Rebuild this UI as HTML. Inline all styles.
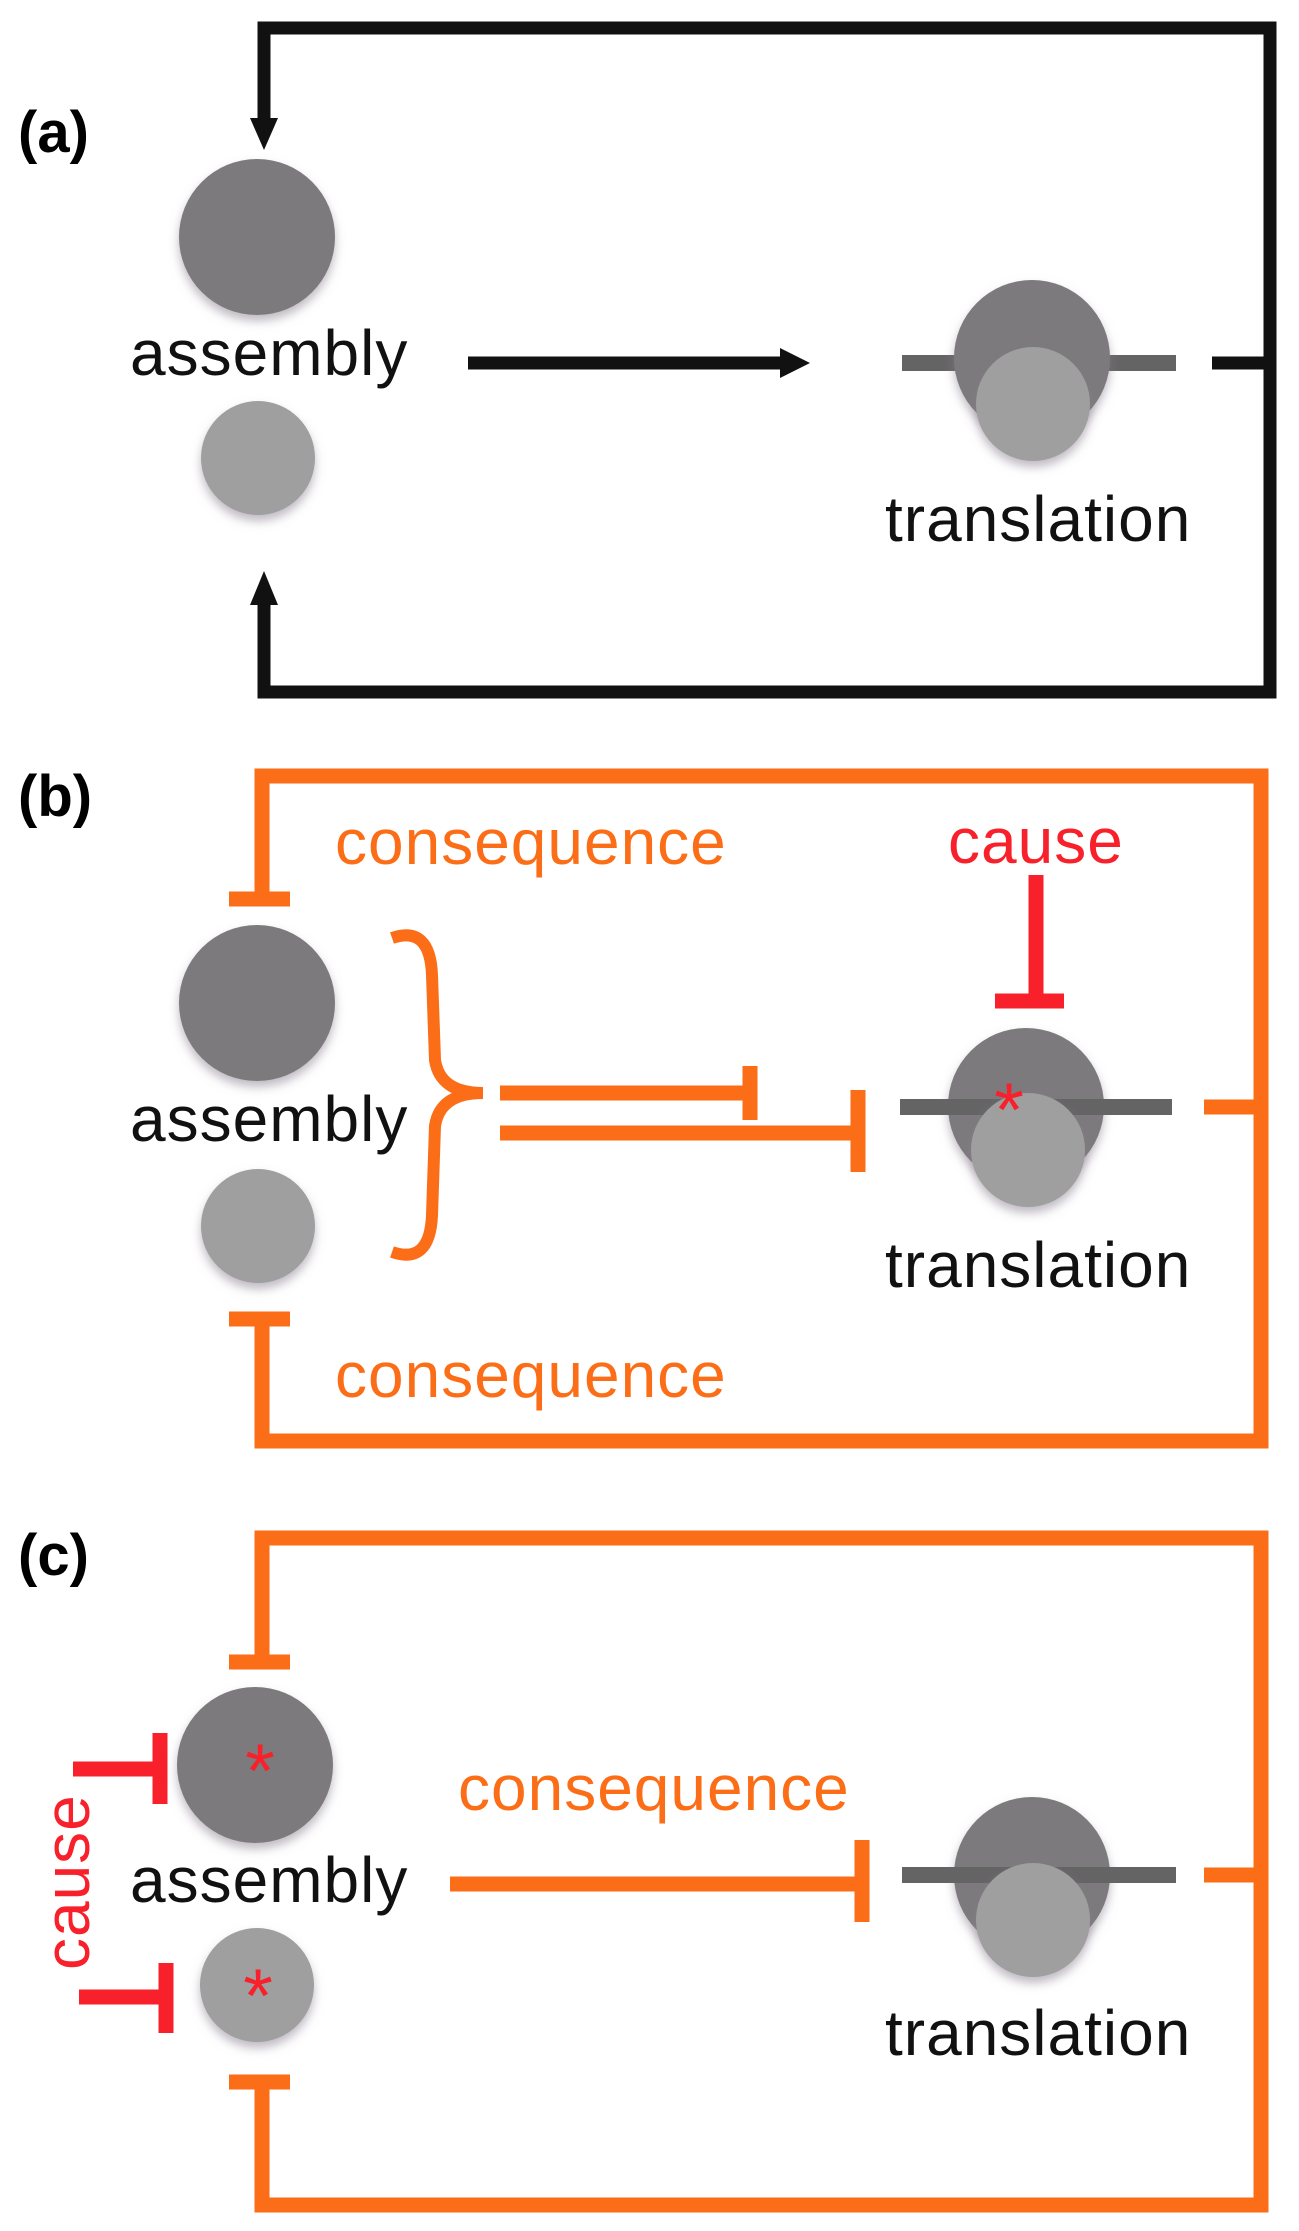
<!DOCTYPE html>
<html><head><meta charset="utf-8"><style>
html,body{margin:0;padding:0;background:#fff}
svg{display:block}
text{font-family:"Liberation Sans",sans-serif}
</style></head><body>
<svg width="1299" height="2231" viewBox="0 0 1299 2231" xmlns="http://www.w3.org/2000/svg">
<defs>
<filter id="sh" x="-30%" y="-30%" width="160%" height="170%">
<feDropShadow dx="0" dy="6" stdDeviation="5" flood-color="#8a8090" flood-opacity="0.55"/>
</filter>
</defs>
<g font-size="64" letter-spacing="1">
<!-- ===== Panel (a) ===== -->
<text x="18" y="152" font-size="58" font-weight="bold" letter-spacing="0">(a)</text>
<g fill="none" stroke="#111" stroke-width="13">
<polyline points="264,120 264,28 1270,28 1270,692 264,692 264,600"/>
<line x1="468" y1="363" x2="785" y2="363"/>
<line x1="1212" y1="363" x2="1270" y2="363"/>
</g>
<polygon points="250,118 278,118 264,150" fill="#111"/>
<polygon points="250,605 278,605 264,571" fill="#111"/>
<polygon points="780,348 810,363 780,378" fill="#111"/>
<circle cx="257" cy="237" r="78" fill="#7b7a7b" filter="url(#sh)"/>
<circle cx="258" cy="458" r="57" fill="#9f9f9f" filter="url(#sh)"/>
<text x="130" y="375" fill="#111">assembly</text>
<rect x="902" y="355" width="274" height="16" fill="#656465"/>
<circle cx="1032" cy="358" r="78" fill="#7b7a7b" filter="url(#sh)"/>
<circle cx="1033" cy="404" r="57" fill="#9f9f9f" filter="url(#sh)"/>
<text x="885" y="541" fill="#111">translation</text>

<!-- ===== Panel (b) ===== -->
<text x="18" y="816" font-size="58" font-weight="bold" letter-spacing="0">(b)</text>
<g fill="none" stroke="#fb6e17" stroke-width="15">
<polyline points="262,899 262,776 1261,776 1261,1441 262,1441 262,1319"/>
<line x1="229" y1="899" x2="290" y2="899"/>
<line x1="229" y1="1319" x2="290" y2="1319"/>
<line x1="500" y1="1093" x2="748" y2="1093"/>
<line x1="750" y1="1066" x2="750" y2="1120"/>
<line x1="500" y1="1133" x2="856" y2="1133"/>
<line x1="858" y1="1090" x2="858" y2="1172"/>
<line x1="1204" y1="1107" x2="1261" y2="1107"/>
<path d="M392,938 Q430,925 432,975 L435,1060 Q440,1093 483,1093 Q440,1093 435,1126 L432,1215 Q430,1265 392,1252" stroke-width="12"/>
</g>
<g stroke="#f8202a" stroke-width="15" fill="none">
<line x1="1036" y1="875" x2="1036" y2="1000"/>
<line x1="995" y1="1001" x2="1064" y2="1001"/>
</g>
<text x="335" y="864" fill="#fb6e17">consequence</text>
<text x="335" y="1397" fill="#fb6e17">consequence</text>
<text x="948" y="863" fill="#f8202a">cause</text>
<circle cx="257" cy="1003" r="78" fill="#7b7a7b" filter="url(#sh)"/>
<circle cx="258" cy="1226" r="57" fill="#9f9f9f" filter="url(#sh)"/>
<text x="130" y="1141" fill="#111">assembly</text>
<circle cx="1026" cy="1106" r="78" fill="#7b7a7b" filter="url(#sh)"/>
<rect x="900" y="1099" width="272" height="16" fill="#656465"/>
<circle cx="1028" cy="1150" r="57" fill="#9f9f9f" filter="url(#sh)"/>
<text x="1009" y="1136" font-size="76" fill="#f8202a" text-anchor="middle" letter-spacing="0">*</text>
<text x="885" y="1287" fill="#111">translation</text>

<!-- ===== Panel (c) ===== -->
<text x="18" y="1575" font-size="58" font-weight="bold" letter-spacing="0">(c)</text>
<g fill="none" stroke="#fb6e17" stroke-width="15">
<polyline points="262,1662 262,1538 1261,1538 1261,2205 262,2205 262,2082"/>
<line x1="229" y1="1662" x2="290" y2="1662"/>
<line x1="229" y1="2082" x2="290" y2="2082"/>
<line x1="450" y1="1884" x2="860" y2="1884"/>
<line x1="862" y1="1840" x2="862" y2="1922"/>
<line x1="1204" y1="1875" x2="1261" y2="1875"/>
</g>
<g stroke="#f8202a" stroke-width="15" fill="none">
<line x1="73" y1="1769" x2="160" y2="1769"/>
<line x1="160" y1="1733" x2="160" y2="1804"/>
<line x1="79" y1="1997" x2="166" y2="1997"/>
<line x1="166" y1="1963" x2="166" y2="2033"/>
</g>
<text x="458" y="1810" fill="#fb6e17">consequence</text>
<text transform="translate(89,1970) rotate(-90)" fill="#f8202a">cause</text>
<circle cx="255" cy="1765" r="78" fill="#7b7a7b" filter="url(#sh)"/>
<circle cx="257" cy="1985" r="57" fill="#9f9f9f" filter="url(#sh)"/>
<text x="260" y="1797" font-size="76" fill="#f8202a" text-anchor="middle" letter-spacing="0">*</text>
<text x="258" y="2022" font-size="76" fill="#f8202a" text-anchor="middle" letter-spacing="0">*</text>
<text x="130" y="1902" fill="#111">assembly</text>
<circle cx="1032" cy="1875" r="78" fill="#7b7a7b" filter="url(#sh)"/>
<rect x="902" y="1867" width="274" height="16" fill="#656465"/>
<circle cx="1033" cy="1920" r="57" fill="#9f9f9f" filter="url(#sh)"/>
<text x="885" y="2055" fill="#111">translation</text>
</g>
</svg>
</body></html>
